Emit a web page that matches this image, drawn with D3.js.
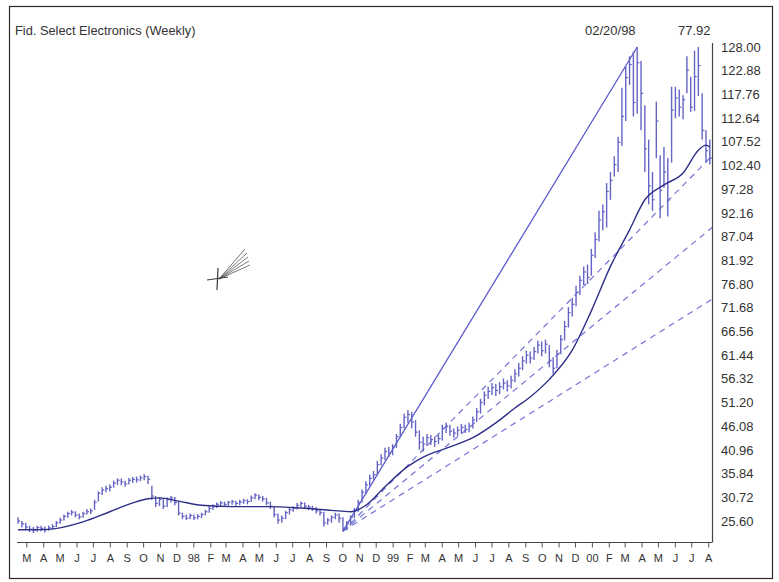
<!DOCTYPE html>
<html>
<head>
<meta charset="utf-8">
<script src="https://cdn.jsdelivr.net/npm/d3@7"></script>
<style>
  body { margin: 0; background: #fff; }
  svg { display: block; }
  text { font-family: "Liberation Sans", Arial, sans-serif; fill: #333; }
</style>
</head>
<body>
<svg id="chart" width="779" height="582"></svg>
<script>
// ---- Fund data: weekly bars (Friday closes) starting 14 Feb 1997 ----
const title = "Fid. Select Electronics (Weekly)";
const headerDate = "02/20/98";
const headerValue = "77.92";

const weekClose = [
  25.6,25.0,24.3,23.8,23.6,24.2,24.0,23.7,24.1,24.4,
  25.2,25.8,26.6,27.2,27.5,26.9,26.5,27.2,27.6,27.8,
  29.6,31.6,32.3,32.6,32.9,33.8,34.4,34.0,33.6,34.4,
  34.6,34.5,34.9,35.2,34.6,31.0,29.4,30.3,28.8,30.2,
  30.6,29.6,27.3,26.6,26.2,26.8,26.3,26.6,27.0,27.6,
  28.3,28.7,29.2,29.5,29.2,29.6,29.8,29.4,29.7,30.0,
  29.8,30.6,31.2,30.7,30.4,29.5,28.8,27.0,25.8,26.2,
  27.4,28.0,28.4,29.0,29.4,28.8,28.6,28.3,27.8,27.4,
  25.2,25.8,26.4,26.9,26.2,24.0,25.0,26.4,27.8,29.6,
  31.8,33.4,34.8,35.6,37.8,39.2,40.6,40.2,41.6,43.8,
  45.8,48.0,48.6,47.0,44.8,42.6,42.2,43.6,43.2,42.8,
  43.4,45.6,46.0,45.0,44.6,45.2,45.8,45.4,46.0,47.4,
  49.2,51.2,52.8,53.6,54.4,53.8,54.6,55.4,54.8,56.0,
  57.4,58.6,60.2,61.4,60.8,62.2,63.6,62.4,63.8,60.2,
  58.6,61.6,64.8,67.6,70.6,72.4,75.0,77.6,79.4,78.2,
  83.0,86.4,90.6,92.4,96.8,99.2,102.6,107.4,113.0,121.4,
  124.2,116.0,124.6,118.0,106.0,98.0,95.0,112.0,97.0,101.0,
  95.0,114.4,117.0,115.0,116.6,123.0,115.0,121.6,124.0,110.0,
  105.6,104.0
];
const weekHigh = [
  26.4,25.6,25.2,24.6,24.3,24.6,24.6,24.4,24.6,24.9,
  25.6,26.3,27.0,27.6,28.0,27.7,27.2,27.6,28.2,28.3,
  30.2,32.0,32.9,33.2,33.5,34.3,34.8,34.8,34.3,34.9,
  35.1,35.2,35.4,35.7,35.4,33.2,31.0,30.8,30.4,30.7,
  31.0,30.8,29.8,27.4,27.0,27.2,27.0,27.1,27.4,28.0,
  28.8,29.2,29.6,29.9,29.8,30.0,30.2,30.0,30.2,30.4,
  30.3,31.1,31.6,31.3,31.0,30.6,29.8,28.6,27.2,26.8,
  27.8,28.4,28.8,29.5,29.8,29.6,29.1,28.9,28.6,28.2,
  27.6,26.2,26.8,27.4,27.2,26.4,25.6,26.8,28.4,30.2,
  32.4,34.2,35.6,36.4,38.6,40.0,41.4,41.6,42.2,44.4,
  46.6,48.8,49.6,49.2,47.4,45.2,43.8,44.4,44.2,43.8,
  44.2,46.4,46.8,46.4,45.6,46.0,46.6,46.4,46.8,48.2,
  50.0,52.0,53.6,54.6,55.4,55.2,55.6,56.4,56.0,57.0,
  58.4,59.8,61.2,62.4,62.2,63.2,64.6,64.4,64.8,63.6,
  61.0,62.6,65.8,68.8,71.8,73.8,76.4,78.6,80.6,81.0,
  84.4,88.0,92.6,94.0,98.6,101.0,104.4,108.6,119.2,123.8,
  126.0,127.0,128.0,125.0,115.4,108.0,101.0,116.2,104.6,106.4,
  104.0,119.4,119.4,118.8,117.6,126.0,121.6,127.2,128.0,118.0,
  110.0,108.0
];
const weekLow = [
  25.0,24.2,23.8,23.2,23.0,23.3,23.4,23.1,23.5,23.8,
  24.3,25.0,25.7,26.3,26.8,26.4,26.0,26.3,27.0,27.1,
  28.0,29.8,31.2,31.8,32.0,32.8,33.4,33.3,33.0,33.5,
  33.8,33.9,34.2,34.4,33.6,30.2,28.6,28.8,28.2,28.6,
  29.6,29.0,26.8,26.0,25.8,26.0,25.8,26.0,26.2,26.8,
  27.4,28.0,28.4,28.8,28.7,28.9,29.1,28.9,29.0,29.3,
  29.2,29.7,30.3,30.1,29.8,29.0,28.2,26.4,25.0,25.2,
  26.0,27.0,27.6,28.1,28.6,28.3,28.0,27.8,27.2,26.8,
  24.4,24.8,25.2,26.0,25.2,23.4,23.6,24.6,26.2,27.6,
  29.6,31.4,33.2,34.6,35.4,37.6,38.8,39.4,39.8,41.4,
  43.6,45.6,46.8,45.6,43.8,41.0,40.6,41.8,42.0,41.6,
  42.2,43.0,44.6,44.0,43.6,44.0,44.4,44.6,44.8,45.6,
  47.0,48.8,50.6,52.0,52.8,52.6,53.0,54.0,53.6,54.2,
  55.6,56.8,58.2,59.6,59.6,60.4,61.8,61.2,61.8,58.8,
  57.4,58.6,61.6,64.6,67.4,69.8,72.0,74.4,76.6,76.8,
  78.6,82.4,86.0,88.4,89.0,95.0,100.0,101.0,106.6,112.0,
  119.8,113.0,113.6,110.0,101.0,94.0,92.6,104.0,91.0,97.6,
  91.4,103.0,112.6,113.0,112.4,118.0,114.0,114.2,117.4,108.0,
  103.0,102.6
];

// 20-week moving average, read at selected weeks
const maWeek  = [0, 8, 17, 24, 30, 34, 37, 42, 48, 56, 65, 74, 82, 87, 91, 96, 102, 106,
                 113, 119, 125, 130, 134, 139, 145, 150, 155, 160, 164, 169, 174, 178, 180, 181];
const maValue = [23.7, 23.8, 25.4, 27.6, 29.5, 30.4, 30.6, 29.9, 29.0, 28.7, 28.7, 28.4, 27.9, 27.6,
                 29.0, 33.0, 37.4, 39.4, 41.6, 43.6, 46.8, 50.0, 52.4, 56.2, 62.5, 71.0, 80.6, 88.5,
                 95.0, 98.2, 100.8, 105.7, 106.8, 106.4];

// Price axis labels (right side)
const yTicks = [128.00, 122.88, 117.76, 112.64, 107.52, 102.40, 97.28, 92.16, 87.04, 81.92, 76.80,
                71.68, 66.56, 61.44, 56.32, 51.20, 46.08, 40.96, 35.84, 30.72, 25.60];

// Fibonacci fan: anchored on the October 1998 low and the March 2000 high
const fanFromWeek = 85;
const fanToWeek = 162;
const fanLevels = [0.618, 0.5, 0.382];

const monthLetters = ["J","F","M","A","M","J","J","A","S","O","N","D"];

// ---- Layout ----
const svg = d3.select("#chart");
const plotLeft = 17, plotRight = 712, plotTop = 43, plotBottom = 542;

const weekDate = i => new Date(1997, 1, 14 + 7 * i);

const x = d3.scaleTime()
  .domain([new Date(1997, 1, 12), new Date(2000, 7, 8)])
  .range([plotLeft, plotRight]);

const y = d3.scaleLinear()
  .domain([25.6, 128])
  .range([521, 47]);

// Outer frame
svg.append("rect")
  .attr("x", 9.5).attr("y", 6.5)
  .attr("width", 763).attr("height", 572)
  .attr("fill", "none").attr("stroke", "#2a2a2a").attr("stroke-width", 1.2);

// Header texts
svg.append("text").attr("x", 15).attr("y", 35)
  .attr("font-size", 12.8).text(title);
svg.append("text").attr("x", 585).attr("y", 35)
  .attr("font-size", 13).text(headerDate);
svg.append("text").attr("x", 678).attr("y", 35)
  .attr("font-size", 13).text(headerValue);

// Axes lines
svg.append("line")
  .attr("x1", plotLeft).attr("x2", plotRight)
  .attr("y1", plotBottom + 0.5).attr("y2", plotBottom + 0.5)
  .attr("stroke", "#444").attr("stroke-width", 1.2);
svg.append("line")
  .attr("x1", plotRight + 0.5).attr("x2", plotRight + 0.5)
  .attr("y1", plotTop).attr("y2", plotBottom + 0.5)
  .attr("stroke", "#444").attr("stroke-width", 1.2);

// Month ticks and labels along the bottom
const months = d3.timeMonth.range(new Date(1997, 2, 1), new Date(2000, 7, 2));
const xAxis = d3.axisBottom(x)
  .tickValues(months)
  .tickSize(5)
  .tickPadding(7)
  .tickFormat(d => d.getMonth() === 0 ? String(d.getFullYear()).slice(2) : monthLetters[d.getMonth()]);
const gx = svg.append("g")
  .attr("transform", `translate(0,${plotBottom + 0.5})`)
  .call(xAxis);
gx.select(".domain").remove();
gx.selectAll(".tick line").attr("stroke", "#555");
gx.selectAll(".tick text")
  .attr("font-size", 11)
  .attr("font-family", "\"Liberation Sans\", Arial, sans-serif")
  .attr("fill", "#333");

// Price labels on the right
const yAxis = d3.axisRight(y)
  .tickValues(yTicks)
  .tickSize(0)
  .tickPadding(9)
  .tickFormat(d3.format(".2f"));
const gy = svg.append("g")
  .attr("transform", `translate(${plotRight},0)`)
  .call(yAxis);
gy.select(".domain").remove();
gy.selectAll(".tick text")
  .attr("font-size", 13)
  .attr("font-family", "\"Liberation Sans\", Arial, sans-serif")
  .attr("fill", "#333");

// ---- Fibonacci fan ----
const weeks = d3.range(weekClose.length);
const t0 = weekDate(fanFromWeek), v0 = weekLow[fanFromWeek];
const t1 = weekDate(fanToWeek), v1 = weekHigh[fanToWeek];
const tEnd = x.domain()[1];
const fanValue = (level, t) => v0 + level * (v1 - v0) * (t - t0) / (t1 - t0);

const fanG = svg.append("g");
fanG.selectAll("line.fan")
  .data(fanLevels)
  .join("line")
  .attr("class", "fan")
  .attr("x1", x(t0)).attr("y1", y(v0))
  .attr("x2", x(tEnd)).attr("y2", d => y(fanValue(d, tEnd)))
  .attr("stroke", "#7474d8")
  .attr("stroke-width", 1.2)
  .attr("stroke-dasharray", "6,5");

fanG.append("line")
  .attr("x1", x(t0)).attr("y1", y(v0))
  .attr("x2", x(t1)).attr("y2", y(v1))
  .attr("stroke", "#5a5acc")
  .attr("stroke-width", 1.3);

// ---- Weekly bars ----
const barG = svg.append("g").attr("stroke", "#6464c4");
barG.selectAll("line.hl")
  .data(weeks)
  .join("line")
  .attr("class", "hl")
  .attr("x1", i => x(weekDate(i))).attr("x2", i => x(weekDate(i)))
  .attr("y1", i => y(weekHigh[i])).attr("y2", i => y(weekLow[i]))
  .attr("stroke-width", 1.4);
barG.selectAll("line.cl")
  .data(weeks)
  .join("line")
  .attr("class", "cl")
  .attr("x1", i => x(weekDate(i))).attr("x2", i => x(weekDate(i)) + 2.2)
  .attr("y1", i => y(weekClose[i])).attr("y2", i => y(weekClose[i]))
  .attr("stroke-width", 1.2);

// ---- Moving average ----
const maLine = d3.line()
  .x((d, k) => x(weekDate(maWeek[k])))
  .y(d => y(d))
  .curve(d3.curveMonotoneX);
svg.append("path")
  .datum(maValue)
  .attr("d", maLine)
  .attr("fill", "none")
  .attr("stroke", "#2e2e88")
  .attr("stroke-width", 1.4);

// ---- Drawing-tool cursor (crosshair with fan strokes) ----
const cur = svg.append("g").attr("stroke", "#3a3a3a").attr("fill", "none");
cur.append("line").attr("x1", 207).attr("y1", 280).attr("x2", 228).attr("y2", 277).attr("stroke-width", 1.2);
cur.append("line").attr("x1", 218).attr("y1", 268).attr("x2", 217).attr("y2", 290).attr("stroke-width", 1.2);
const fanTips = [[245, 249], [247, 253], [248, 257], [249, 261], [250, 265]];
cur.selectAll("line.tip")
  .data(fanTips)
  .join("line")
  .attr("class", "tip")
  .attr("x1", 219).attr("y1", 279)
  .attr("x2", d => d[0]).attr("y2", d => d[1])
  .attr("stroke-width", 0.9)
  .attr("stroke-opacity", 0.75);
</script>
</body>
</html>
